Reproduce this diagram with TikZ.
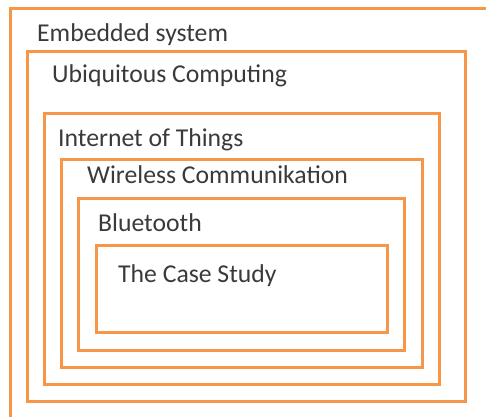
\documentclass[tikz,border=0pt]{standalone}
\usepackage{fontspec}
\setmainfont{Carlito}
\definecolor{boxorange}{HTML}{F79646}
\definecolor{txtgray}{HTML}{3A3A3A}
\tikzset{
  frame/.style={draw=boxorange, line width=3pt, inner sep=0pt, outer sep=0pt, anchor=north west, fill=none},
  lbl/.style={anchor=base west, inner sep=0pt, text=txtgray, font=\fontsize{25.7}{30}\selectfont}
}
\begin{document}
\begin{tikzpicture}[x=1pt,y=-1pt]
\useasboundingbox (0,0) rectangle (486,416);
\clip (0,0) rectangle (486,416);
\node[frame, minimum width=482pt, minimum height=414pt] (b1) at (10,8) {};
\node[frame, minimum width=438pt, minimum height=350pt] (b2) at (27,51) {};
\node[frame, minimum width=395pt, minimum height=271pt] (b3) at (44,113) {};
\node[frame, minimum width=361pt, minimum height=208pt] (b4) at (61,159) {};
\node[frame, minimum width=326pt, minimum height=152pt] (b5) at (78,198) {};
\node[frame, minimum width=291pt, minimum height=87pt] (b6) at (96,245) {};
\node[lbl] (t1) at (37,41) {Embedded system};
\node[lbl] (t2) at (52,82) {Ubiquitous Computing};
\node[lbl] (t3) at (58,146) {Internet of Things};
\node[lbl] (t4) at (87,183) {Wireless Communikation};
\node[lbl] (t5) at (98,231) {Bluetooth};
\node[lbl] (t6) at (118,282) {The Case Study};
\end{tikzpicture}
\end{document}
